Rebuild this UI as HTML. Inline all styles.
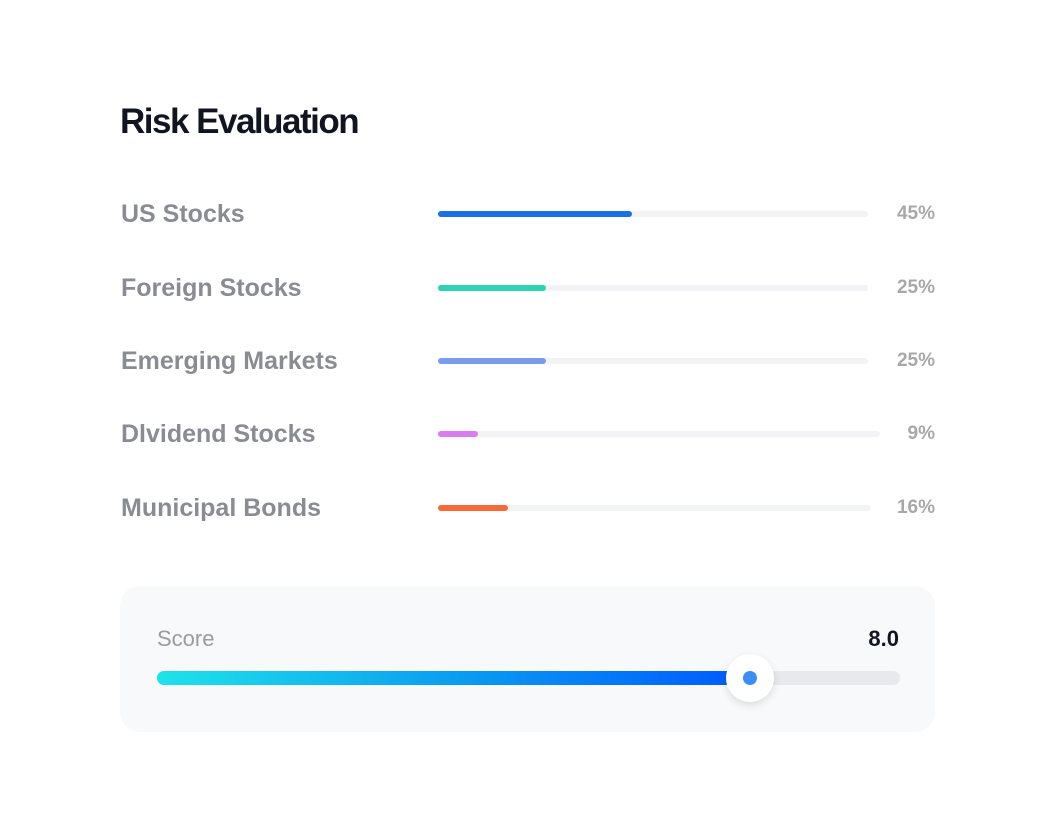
<!DOCTYPE html>
<html><head><style>
body{margin:0;width:1056px;height:830px;background:#fff;font-family:"Liberation Sans",sans-serif;position:relative;overflow:hidden}
.a{position:absolute}
.lbl{left:121px;font-size:25px;font-weight:bold;color:#8a8c94;letter-spacing:0px;line-height:30px}
.pct{right:121px;font-size:19px;font-weight:bold;color:#a8a8aa;line-height:22px;text-align:right;letter-spacing:0px}
.tr{left:438px;height:6px;border-radius:3px;background:#f2f3f5}
.fl{left:438px;height:6px;border-radius:3px}
</style></head><body>
<div class="a" style="left:120px;top:101px;font-size:35px;font-weight:bold;color:#111522;letter-spacing:-1.5px;line-height:42px">Risk Evaluation</div>

<div class="a lbl" style="top:199px">US Stocks</div>
<div class="a tr" style="top:211px;width:430px"></div>
<div class="a fl" style="top:211px;width:194px;background:#1b6fe6"></div>
<div class="a pct" style="top:203px">45%</div>

<div class="a lbl" style="top:273px">Foreign Stocks</div>
<div class="a tr" style="top:285px;width:430px"></div>
<div class="a fl" style="top:285px;width:108px;background:#2ed3b0"></div>
<div class="a pct" style="top:277px">25%</div>

<div class="a lbl" style="top:346px">Emerging Markets</div>
<div class="a tr" style="top:358px;width:430px"></div>
<div class="a fl" style="top:358px;width:108px;background:#7b9bec"></div>
<div class="a pct" style="top:350px">25%</div>

<div class="a lbl" style="top:419px">Dlvidend Stocks</div>
<div class="a tr" style="top:431px;width:442px"></div>
<div class="a fl" style="top:431px;width:40px;background:#dc7cf1"></div>
<div class="a pct" style="top:423px">9%</div>

<div class="a lbl" style="top:493px">Municipal Bonds</div>
<div class="a tr" style="top:505px;width:433px"></div>
<div class="a fl" style="top:505px;width:70px;background:#f8693a"></div>
<div class="a pct" style="top:497px">16%</div>

<div class="a" style="left:120px;top:586px;width:815px;height:146px;border-radius:20px;background:#f8f9fb"></div>
<div class="a" style="left:157px;top:626px;font-size:22px;color:#9a9ca2;line-height:26px">Score</div>
<div class="a" style="right:157px;top:626px;font-size:22px;font-weight:bold;color:#111522;line-height:26px">8.0</div>
<div class="a" style="left:157px;top:671px;width:743px;height:14px;border-radius:7px;background:#e8e9ed"></div>
<div class="a" style="left:157px;top:671px;width:600px;height:14px;border-radius:7px;background:linear-gradient(90deg,#1ee3ea,#0a9df0 50%,#0056ff)"></div>
<div class="a" style="left:726px;top:654px;width:48px;height:48px;border-radius:50%;background:#fff;box-shadow:0 3px 8px rgba(0,0,0,0.12)"></div>
<div class="a" style="left:743px;top:671px;width:14px;height:14px;border-radius:50%;background:#3a8ef5"></div>
</body></html>
